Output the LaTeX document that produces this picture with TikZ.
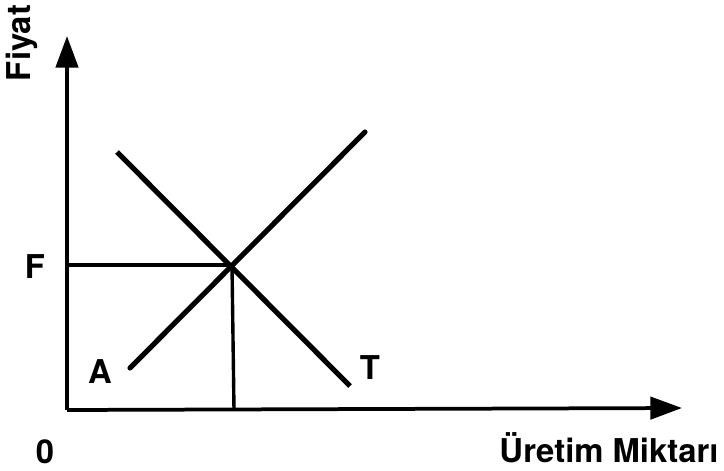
\documentclass[tikz,border=0pt]{standalone}
\usepackage{fontspec}
\setmainfont{TeX Gyre Heros}
\usetikzlibrary{positioning,arrows.meta}

\begin{document}
\begin{tikzpicture}[x=0.03cm, y=-0.03cm, >={Triangle[length=27pt,width=19pt]},
    lbl/.style={font=\fontsize{28}{30}\selectfont\bfseries, inner sep=0pt},
    axis/.style={line width=3.2pt},
    curve/.style={line width=4.4pt},
    guide/.style={line width=2.9pt}]
    \useasboundingbox (0,0) rectangle (724,470);
    % axes
    \coordinate (O) at (67,410);
    \coordinate (ytop) at (67,36);
    \coordinate (xend) at (682,408);
    \draw[axis,->] (O) -- (ytop);
    \draw[axis,->] (O) -- (xend);
    \node[lbl, rotate=90] (fiyat) at (22,43) {Fiyat};
    \node[lbl] (zero) at (45,452) {0};
    \node[lbl] (qlab) at (609,448) {Üretim Miktarı};
    % supply and demand
    \coordinate (A1) at (130,368); \coordinate (A2) at (365,132);
    \coordinate (T1) at (117,152); \coordinate (T2) at (350,386);
    \draw[curve, line cap=round] (A1) -- (A2);
    \draw[curve] (T1) -- (T2);
    \node[lbl] (alab) at (100,372) {A};
    \node[lbl] (tlab) at (370,368) {T};
    % equilibrium
    \coordinate (E) at (232,265);
    \coordinate (Fy) at (67,265);
    \coordinate (Qx) at (234,410);
    \draw[guide] (Fy) -- (E);
    \draw[guide] (Qx) -- (E);
    \node[lbl] (flab) at (35,267) {F};
\end{tikzpicture}
\end{document}
